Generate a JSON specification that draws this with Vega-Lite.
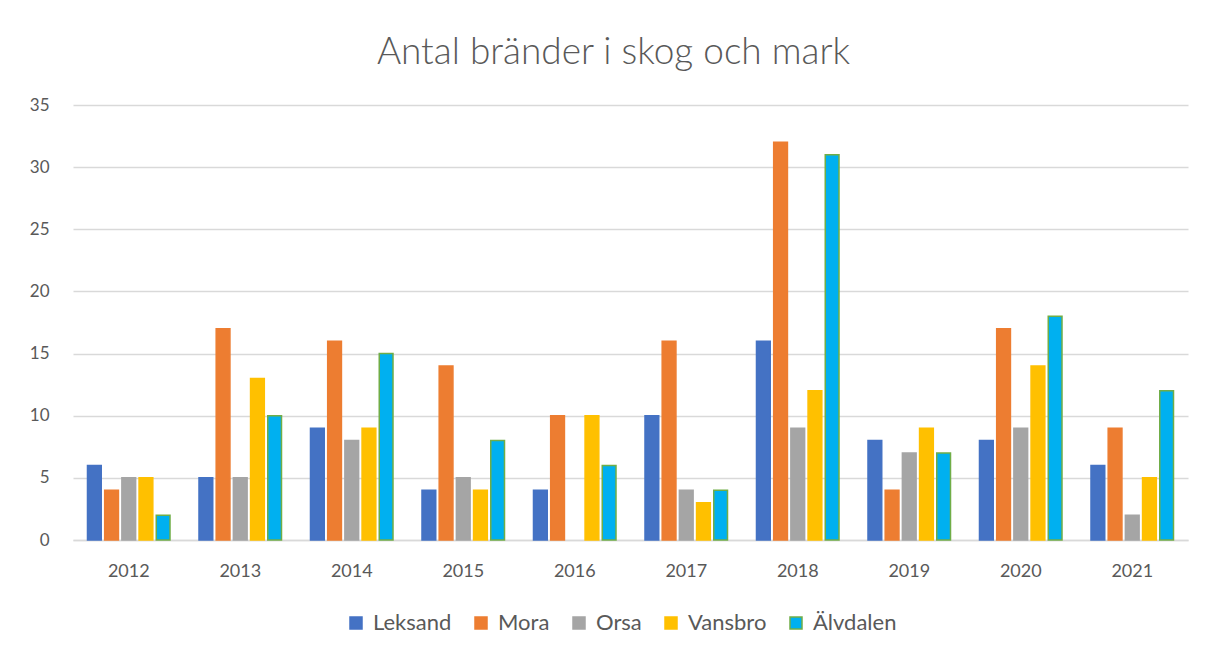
{
  "$schema": "https://vega.github.io/schema/vega-lite/v6.json",
  "autosize": "none",
  "width": 1115,
  "height": 435,
  "padding": {"left": 73, "top": 105, "right": 25, "bottom": 117},
  "background": "white",
  "title": {
    "text": "Antal bränder i skog och mark",
    "font": "Lato",
    "fontSize": 37,
    "fontWeight": 300,
    "color": "#595959",
    "anchor": "middle",
    "offset": 24,
    "dx": -17
  },
  "data": {
    "values": [
      {"year": "2012", "kommun": "Leksand", "antal": 6},
      {"year": "2012", "kommun": "Mora", "antal": 4},
      {"year": "2012", "kommun": "Orsa", "antal": 5},
      {"year": "2012", "kommun": "Vansbro", "antal": 5},
      {"year": "2012", "kommun": "Älvdalen", "antal": 2},
      {"year": "2013", "kommun": "Leksand", "antal": 5},
      {"year": "2013", "kommun": "Mora", "antal": 17},
      {"year": "2013", "kommun": "Orsa", "antal": 5},
      {"year": "2013", "kommun": "Vansbro", "antal": 13},
      {"year": "2013", "kommun": "Älvdalen", "antal": 10},
      {"year": "2014", "kommun": "Leksand", "antal": 9},
      {"year": "2014", "kommun": "Mora", "antal": 16},
      {"year": "2014", "kommun": "Orsa", "antal": 8},
      {"year": "2014", "kommun": "Vansbro", "antal": 9},
      {"year": "2014", "kommun": "Älvdalen", "antal": 15},
      {"year": "2015", "kommun": "Leksand", "antal": 4},
      {"year": "2015", "kommun": "Mora", "antal": 14},
      {"year": "2015", "kommun": "Orsa", "antal": 5},
      {"year": "2015", "kommun": "Vansbro", "antal": 4},
      {"year": "2015", "kommun": "Älvdalen", "antal": 8},
      {"year": "2016", "kommun": "Leksand", "antal": 4},
      {"year": "2016", "kommun": "Mora", "antal": 10},
      {"year": "2016", "kommun": "Vansbro", "antal": 10},
      {"year": "2016", "kommun": "Älvdalen", "antal": 6},
      {"year": "2017", "kommun": "Leksand", "antal": 10},
      {"year": "2017", "kommun": "Mora", "antal": 16},
      {"year": "2017", "kommun": "Orsa", "antal": 4},
      {"year": "2017", "kommun": "Vansbro", "antal": 3},
      {"year": "2017", "kommun": "Älvdalen", "antal": 4},
      {"year": "2018", "kommun": "Leksand", "antal": 16},
      {"year": "2018", "kommun": "Mora", "antal": 32},
      {"year": "2018", "kommun": "Orsa", "antal": 9},
      {"year": "2018", "kommun": "Vansbro", "antal": 12},
      {"year": "2018", "kommun": "Älvdalen", "antal": 31},
      {"year": "2019", "kommun": "Leksand", "antal": 8},
      {"year": "2019", "kommun": "Mora", "antal": 4},
      {"year": "2019", "kommun": "Orsa", "antal": 7},
      {"year": "2019", "kommun": "Vansbro", "antal": 9},
      {"year": "2019", "kommun": "Älvdalen", "antal": 7},
      {"year": "2020", "kommun": "Leksand", "antal": 8},
      {"year": "2020", "kommun": "Mora", "antal": 17},
      {"year": "2020", "kommun": "Orsa", "antal": 9},
      {"year": "2020", "kommun": "Vansbro", "antal": 14},
      {"year": "2020", "kommun": "Älvdalen", "antal": 18},
      {"year": "2021", "kommun": "Leksand", "antal": 6},
      {"year": "2021", "kommun": "Mora", "antal": 9},
      {"year": "2021", "kommun": "Orsa", "antal": 2},
      {"year": "2021", "kommun": "Vansbro", "antal": 5},
      {"year": "2021", "kommun": "Älvdalen", "antal": 12}
    ]
  },
  "mark": {"type": "bar", "strokeWidth": 1.5},
  "encoding": {
    "x": {
      "field": "year",
      "type": "nominal",
      "title": null,
      "scale": {"paddingInner": 0.26, "paddingOuter": 0.13},
      "axis": {
        "labelAngle": 0,
        "labelFont": "Lato",
        "labelFontSize": 18,
        "labelColor": "#595959",
        "labelPadding": 22,
        "ticks": false,
        "domainColor": "#d9d9d9",
        "domainWidth": 1.5,
        "grid": false
      }
    },
    "xOffset": {
      "field": "kommun",
      "type": "nominal",
      "sort": ["Leksand", "Mora", "Orsa", "Vansbro", "Älvdalen"],
      "scale": {"paddingInner": 0.2}
    },
    "y": {
      "field": "antal",
      "type": "quantitative",
      "title": null,
      "scale": {"domain": [0, 35]},
      "axis": {
        "values": [0, 5, 10, 15, 20, 25, 30, 35],
        "labelFont": "Lato",
        "labelFontSize": 17,
        "labelColor": "#595959",
        "labelPadding": 24,
        "ticks": false,
        "domain": false,
        "grid": true,
        "gridColor": "#d9d9d9",
        "gridWidth": 1.5
      }
    },
    "color": {
      "field": "kommun",
      "type": "nominal",
      "sort": ["Leksand", "Mora", "Orsa", "Vansbro", "Älvdalen"],
      "scale": {
        "domain": ["Leksand", "Mora", "Orsa", "Vansbro", "Älvdalen"],
        "range": ["#4472c4", "#ed7d31", "#a5a5a5", "#ffc000", "#00b0f0"]
      },
      "legend": {
        "title": null,
        "orient": "none",
        "legendX": 272,
        "legendY": 507,
        "direction": "horizontal",
        "symbolType": "square",
        "symbolSize": 144,
        "symbolStrokeWidth": 1.5,
        "labelFont": "Lato",
        "labelFontSize": 22,
        "labelColor": "#595959",
        "columnPadding": 18,
        "labelOffset": 6
      }
    },
    "stroke": {
      "field": "kommun",
      "type": "nominal",
      "sort": ["Leksand", "Mora", "Orsa", "Vansbro", "Älvdalen"],
      "scale": {
        "domain": ["Leksand", "Mora", "Orsa", "Vansbro", "Älvdalen"],
        "range": ["#4472c4", "#ed7d31", "#a5a5a5", "#ffc000", "#70ad47"]
      }
    }
  },
  "config": {
    "view": {"stroke": null}
  }
}
